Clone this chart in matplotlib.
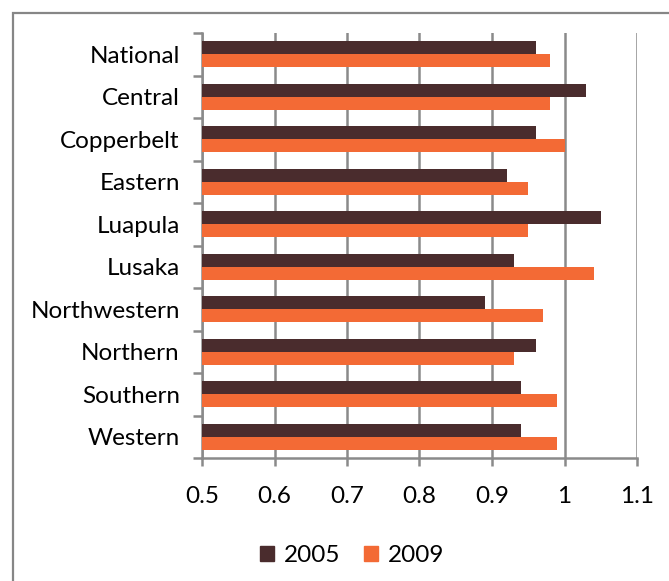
import numpy as np
import matplotlib.pyplot as plt
from matplotlib.patches import Rectangle, Patch

plt.rcParams['font.family'] = ['Lato', 'DejaVu Sans']

regions = ["National", "Central", "Copperbelt", "Eastern", "Luapula",
           "Lusaka", "Northwestern", "Northern", "Southern", "Western"]
values_2005 = [0.96, 1.03, 0.96, 0.92, 1.05, 0.93, 0.89, 0.96, 0.94, 0.94]
values_2009 = [0.98, 0.98, 1.00, 0.95, 0.95, 1.04, 0.97, 0.93, 0.99, 0.99]
x_ticks = [0.5, 0.6, 0.7, 0.8, 0.9, 1.0, 1.1]
x_tick_labels = ["0.5", "0.6", "0.7", "0.8", "0.9", "1", "1.1"]

color_2005 = "#4A2C2D"
color_2009 = "#F36A35"
grey = "#8A8A8A"

fig = plt.figure(figsize=(6.69, 5.81), dpi=100)
# outer chart border (cut by the right/bottom image edge)
fig.patches.append(Rectangle((13 / 669, -0.05), 1.1, 1 - 13 / 581 + 0.05,
                             transform=fig.transFigure, fill=False,
                             edgecolor="#868686", linewidth=1.6))

axis = fig.add_axes([202 / 669, 1 - 458 / 581, 435 / 669, 425 / 581])

pos = np.arange(len(regions))
bar_h = 0.305
axis.barh(pos - bar_h / 2, np.array(values_2005) - 0.5, left=0.5, height=bar_h,
          color=color_2005, zorder=3, label="2005")
axis.barh(pos + bar_h / 2, np.array(values_2009) - 0.5, left=0.5, height=bar_h,
          color=color_2009, zorder=3, label="2009")

axis.set_xlim(0.5, 1.1)
axis.set_ylim(len(regions) - 0.5, -0.5)
axis.set_xticks(x_ticks)
axis.set_xticklabels(x_tick_labels, fontsize=17.5)
axis.set_yticks(pos)
axis.set_yticklabels(regions, fontsize=17.5)
axis.set_yticks(np.arange(len(regions) + 1) - 0.5, minor=True)

axis.spines['top'].set_visible(False)
axis.spines['right'].set_visible(False)
axis.spines['left'].set_color(grey)
axis.spines['bottom'].set_color(grey)
axis.spines['left'].set_linewidth(1.8)
axis.spines['bottom'].set_linewidth(1.8)

axis.tick_params(axis="y", which="major", length=0, pad=16)
axis.tick_params(axis="y", which="minor", length=6.5, width=1.8, color=grey)
axis.tick_params(axis="x", length=6, width=1.8, color=grey, pad=14)
axis.xaxis.grid(True, color=grey, linewidth=1.8, zorder=0)
axis.yaxis.grid(False)
axis.set_axisbelow(True)

handles = [Patch(color=color_2005, label="2005"), Patch(color=color_2009, label="2009")]
fig.legend(handles=handles, loc="center", bbox_to_anchor=(352 / 669, 1 - 556 / 581),
           ncol=2, frameon=False, fontsize=17.5, handlelength=0.58, handleheight=0.58,
           handletextpad=0.4, columnspacing=1.0)

fig.savefig("out.png", dpi=100)
